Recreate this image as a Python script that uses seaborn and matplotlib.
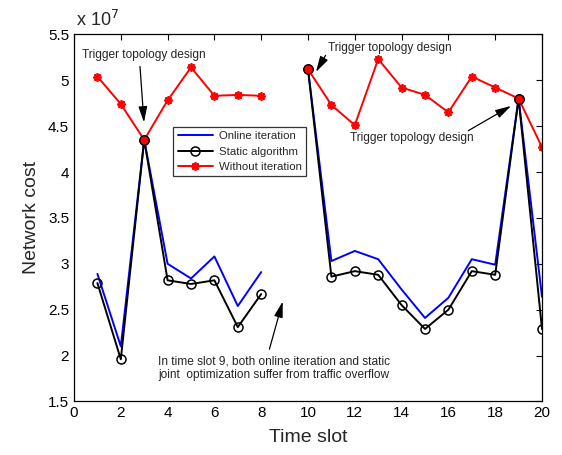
import numpy as np
import pandas as pd
import seaborn as sns
import matplotlib.pyplot as plt

nan = np.nan
slots = list(range(1, 21))
# network cost in units of 1e7, slot 9 missing (traffic overflow)
online = [2.89, 2.10, 4.35, 3.00, 2.84, 3.08, 2.54, 2.91, nan, 5.12,
          3.03, 3.14, 3.05, 2.72, 2.41, 2.63, 3.05, 2.99, 4.80, 2.64]
static = [2.79, 1.96, 4.35, 2.82, 2.78, 2.82, 2.31, 2.67, nan, 5.12,
          2.86, 2.92, 2.88, 2.55, 2.29, 2.50, 2.92, 2.88, 4.80, 2.29]
without = [5.04, 4.74, 4.35, 4.78, 5.14, 4.83, 4.84, 4.83, nan, 5.12,
           4.73, 4.51, 5.23, 4.92, 4.84, 4.65, 5.04, 4.92, 4.80, 4.27]
trigger_slots = [3, 10, 19]
trigger_cost = [without[s - 1] for s in trigger_slots]

sns.set_theme(style="white")
plt.rcParams["font.family"] = ["Liberation Sans", "DejaVu Sans"]

fig = plt.figure(figsize=(5.62, 4.55), dpi=100)
ax = fig.add_axes([0.1317, 0.1176, 0.8327, 0.807])


def draw(values, label, **kw):
    df = pd.DataFrame({"slot": slots, "cost": values})
    df["seg"] = df["cost"].isna().cumsum()
    df = df.dropna()
    for i, (_, part) in enumerate(df.groupby("seg")):
        sns.lineplot(data=part, x="slot", y="cost", ax=ax, errorbar=None,
                     label=label if i == 0 else "_nolegend_", **kw)


draw(online, "Online iteration", color="blue", lw=1.4)
draw(static, "Static algorithm", color="black", lw=1.4, marker="o",
     markerfacecolor="none", markeredgecolor="black", markersize=6.5,
     markeredgewidth=1.1)
draw(without, "Without iteration", color="red", lw=1.4, marker=(8, 2, 0),
     markeredgecolor="red", markersize=6, markeredgewidth=1.3)

sns.scatterplot(x=trigger_slots, y=trigger_cost, ax=ax, color="red",
                edgecolor="black", s=45, linewidth=0.9, zorder=5)

ax.set_xlim(0, 20)
ax.set_ylim(1.5, 5.5)
ax.set_xticks(range(0, 21, 2))
ax.set_yticks(np.arange(1.5, 5.51, 0.5))
ax.set_yticklabels(["1.5", "2", "2.5", "3", "3.5", "4", "4.5", "5", "5.5"])
ax.tick_params(direction="in", top=True, right=True, length=4,
               labelsize=11, colors="black", width=0.8)
for sp in ax.spines.values():
    sp.set_color("black")
    sp.set_linewidth(0.9)
ax.set_xlabel("Time slot", fontsize=14, labelpad=6)
ax.set_ylabel("Network cost", fontsize=14, labelpad=6)
ax.text(0.004, 1.022, "x 10$^{7}$", transform=ax.transAxes, fontsize=13,
        va="baseline", ha="left")

leg = ax.legend(loc="upper left", bbox_to_anchor=(0.212, 0.748), fontsize=8.2,
                frameon=True, fancybox=False, edgecolor="black",
                handlelength=3.1, labelspacing=0.45, borderpad=0.4,
                handletextpad=0.5, borderaxespad=0)
leg.get_frame().set_linewidth(0.9)

fs = 8.6
arrow = dict(arrowstyle="-|>,head_width=0.22,head_length=0.8", color="black",
             lw=0.9, shrinkA=0, shrinkB=0)
ax.text(2.98, 5.27, "Trigger topology design", fontsize=fs, ha="center", va="center")
ax.annotate("", xy=(2.99, 4.54), xytext=(2.82, 5.15), arrowprops=arrow)

ax.text(13.50, 5.35, "Trigger topology design", fontsize=fs, ha="center", va="center")
ax.annotate("", xy=(10.34, 5.09), xytext=(10.75, 5.27), arrowprops=arrow)

ax.text(14.45, 4.37, "Trigger topology design", fontsize=fs, ha="center", va="center")
ax.annotate("", xy=(18.68, 4.72), xytext=(16.85, 4.45), arrowprops=arrow)

ax.text(8.55, 1.865, "In time slot 9, both online iteration and static\n"
        "joint  optimization suffer from traffic overflow",
        fontsize=fs, ha="center", va="center", linespacing=1.2)
ax.annotate("", xy=(8.92, 2.59), xytext=(8.35, 2.07), arrowprops=arrow)

fig.savefig("out.png", dpi=100)
